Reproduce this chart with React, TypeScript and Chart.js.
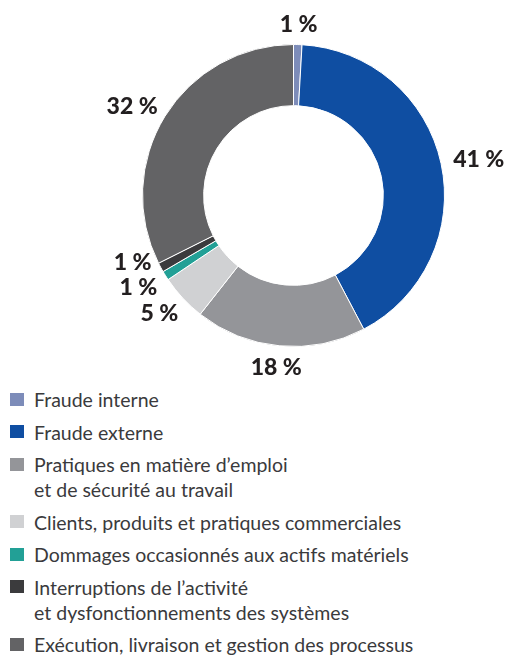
import React, { useEffect, useRef } from "react";
import { Chart, registerables } from "chart.js";

Chart.register(...registerables);

const categories: string[][] = [
  ["Fraude interne"],
  ["Fraude externe"],
  ["Pratiques en matière d’emploi", "et de sécurité au travail"],
  ["Clients, produits et pratiques commerciales"],
  ["Dommages occasionnés aux actifs matériels"],
  ["Interruptions de l’activité", "et dysfonctionnements des systèmes"],
  ["Exécution, livraison et gestion des processus"],
];

const shares: number[] = [0.9, 41.4, 18.3, 5.0, 1.0, 1.0, 32.4];

const colors: string[] = [
  "#7d8cb9",
  "#0f4ea2",
  "#949599",
  "#d0d1d3",
  "#22a096",
  "#3b3b3d",
  "#636365",
];

const LABEL_FONT = "900 23px Lato";

const outerLabels = {
  id: "outerLabels",
  afterDraw(chart: any) {
    const meta = chart.getDatasetMeta(0);
    const ctx = chart.ctx;
    ctx.save();
    ctx.font = LABEL_FONT;
    ctx.fillStyle = "#231f20";
    ctx.textAlign = "center";
    ctx.textBaseline = "middle";
    const items: any[] = [];
    meta.data.forEach((arc: any, i: number) => {
      const p = arc.getProps(["x", "y", "startAngle", "endAngle", "outerRadius"], true);
      const mid = (p.startAngle + p.endAngle) / 2;
      const c = Math.cos(mid);
      const s = Math.sin(mid);
      const R = p.outerRadius + 13;
      const text = `${Math.round(shares[i])} %`;
      const w = ctx.measureText(text).width;
      const h = 16;
      items.push({
        text,
        x: p.x + R * c + (w / 2) * c,
        y: p.y + R * s + (h / 2) * s,
        left: c < 0,
      });
    });
    const left = items.filter((it) => it.left).sort((a, b) => b.y - a.y);
    for (let k = 1; k < left.length; k++) {
      if (left[k].y > left[k - 1].y - 25) left[k].y = left[k - 1].y - 25;
    }
    items.forEach((it) => ctx.fillText(it.text, it.x, it.y + 1));
    ctx.restore();
  },
};

export default function App() {
  const ref = useRef<HTMLCanvasElement>(null);
  useEffect(() => {
    if (!ref.current) return;
    const chart = new Chart(ref.current, {
      type: "doughnut",
      data: {
        labels: categories.map((c) => c.join(" ")),
        datasets: [
          {
            data: shares,
            backgroundColor: colors,
            borderColor: "#ffffff",
            borderWidth: 1,
            hoverOffset: 0,
          },
        ],
      },
      options: {
        animation: false,
        responsive: false,
        maintainAspectRatio: false,
        cutout: "59.5%",
        layout: { padding: { left: 142, right: 60, top: 44, bottom: 33 } },
        plugins: {
          legend: { display: false },
          tooltip: { enabled: false },
        },
      },
      plugins: [outerLabels],
    });
    return () => chart.destroy();
  }, []);

  return (
    <div
      style={{
        position: "absolute",
        left: 0,
        top: 0,
        width: 505,
        height: 659,
        overflow: "hidden",
        background: "#fff",
      }}
    >
      <canvas
        ref={ref}
        width={505}
        height={380}
        style={{ position: "absolute", left: 0, top: 0, width: 505, height: 380 }}
      />
      <div
        style={{
          position: "absolute",
          left: 10,
          top: 387,
          fontFamily: "Lato",
          fontSize: 19.5,
          lineHeight: "25px",
          color: "#3a3a3c",
        }}
      >
        {categories.map((lines, i) => (
          <div key={i} style={{ position: "relative", paddingLeft: 24, marginBottom: 7.5, whiteSpace: "nowrap" }}>
            <span
              style={{
                position: "absolute",
                left: 0,
                top: 5.5,
                width: 14,
                height: 13,
                background: colors[i],
              }}
            />
            {lines.map((l, j) => (
              <div key={j}>{l}</div>
            ))}
          </div>
        ))}
      </div>
    </div>
  );
}
